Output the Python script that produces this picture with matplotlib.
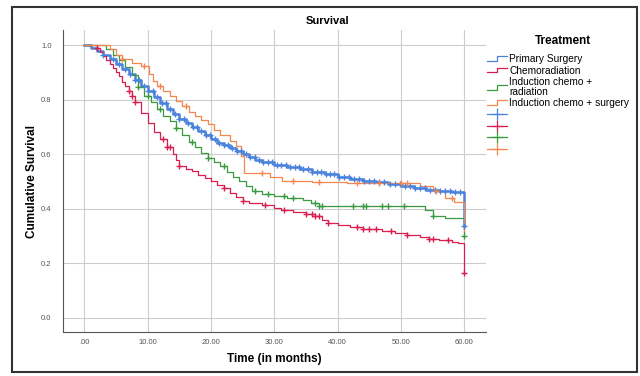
import numpy as np
import matplotlib
matplotlib.use('Agg')
import matplotlib.pyplot as plt
from matplotlib.lines import Line2D
from matplotlib.legend_handler import HandlerBase
from matplotlib.patches import Rectangle

plt.rcParams['font.family'] = ['Liberation Sans', 'DejaVu Sans']

# Kaplan-Meier step data (time in months, cumulative survival)
surg_t = [0, 1, 2, 3, 4, 5, 6, 7, 8, 9, 10, 11, 12, 13, 14, 15, 16, 17, 18, 19,
          20, 21, 22, 23, 24, 25, 26, 27, 28, 30, 32, 34, 36, 38, 40, 42, 44, 46,
          48, 50, 52, 54, 56, 58, 60, 60]
surg_s = [1.0, 0.99, 0.978, 0.962, 0.948, 0.932, 0.912, 0.893, 0.872, 0.85,
          0.83, 0.81, 0.787, 0.767, 0.748, 0.73, 0.715, 0.70, 0.685, 0.67,
          0.655, 0.642, 0.633, 0.624, 0.613, 0.602, 0.59, 0.58, 0.572, 0.562,
          0.553, 0.544, 0.535, 0.527, 0.518, 0.51, 0.503, 0.497, 0.49, 0.482,
          0.477, 0.47, 0.465, 0.46, 0.454, 0.335]
surg_c = [3, 4.5, 5.5, 6.5, 7.2, 8, 8.7, 9.4, 10.1, 10.8, 11.5, 12.2, 12.9, 13.6,
          14.3, 15, 15.7, 16.4, 17.1, 17.8, 18.5, 19.2, 19.9, 20.6, 21.3, 22,
          22.7, 23.4, 24.1, 24.8, 25.5, 26.2, 26.9, 27.6, 28.3, 29, 29.7, 30.4,
          31.1, 31.8, 32.5, 33.2, 33.9, 34.6, 35.3, 36, 36.7, 37.4, 38.1, 38.8,
          39.5, 40.2, 41, 41.8, 42.6, 43.4, 44.2, 45, 45.8, 46.6, 47.4, 48.2, 49,
          49.8, 50.6, 51.4, 52.2, 53, 53.8, 54.6, 55.4, 56.2, 57, 57.8, 58.6,
          59.4, 60]

crt_t = [0, 2, 2.5, 3, 3.5, 4, 4.5, 5, 5.5, 6, 6.5, 7, 7.5, 8, 9, 10, 11, 12, 13,
         14, 14.5, 15, 16, 17, 18, 19, 20, 21, 22, 23, 24, 25, 26, 28, 30, 31, 33,
         35, 36.5, 37.5, 38.5, 40, 42, 44, 47, 49, 51, 53, 54.5, 56, 58, 59, 60, 60]
crt_s = [1.0, 0.99, 0.975, 0.96, 0.945, 0.93, 0.915, 0.9, 0.885, 0.865,
         0.85, 0.833, 0.815, 0.79, 0.75, 0.714, 0.68, 0.655, 0.628, 0.6,
         0.578, 0.556, 0.547, 0.537, 0.525, 0.513, 0.5, 0.487, 0.475, 0.458,
         0.442, 0.428, 0.42, 0.413, 0.404, 0.397, 0.388, 0.38, 0.372, 0.36,
         0.348, 0.34, 0.333, 0.325, 0.317, 0.31, 0.305, 0.298, 0.29, 0.284,
         0.278, 0.274, 0.272, 0.165]
crt_c = [2, 7, 7.5, 8, 12.5, 13, 13.5, 15, 22, 25, 28.5, 31.5, 35, 36, 36.5, 37,
         38.5, 43, 44, 45, 46, 48.5, 51, 54.5, 55, 57.5, 60]

icr_t = [0, 3.5, 4.5, 5.5, 6.5, 7.5, 8.5, 9.5, 10.5, 11.5, 12.5, 13.5, 14.5,
         15.5, 16.5, 17.5, 18.5, 19.5, 20.5, 21.5, 22.5, 23.5, 24.5, 25.5, 26.5,
         28, 30, 32, 34.5, 35.8, 37, 53.8, 55, 57, 60, 60]
icr_s = [1.0, 0.985, 0.965, 0.945, 0.92, 0.89, 0.845, 0.815, 0.79, 0.765,
         0.74, 0.72, 0.695, 0.67, 0.645, 0.625, 0.605, 0.585, 0.57, 0.555,
         0.535, 0.518, 0.5, 0.482, 0.465, 0.455, 0.447, 0.441, 0.432, 0.42,
         0.411, 0.394, 0.375, 0.366, 0.366, 0.30]
icr_c = [8.5, 10, 12, 14.5, 17, 19.5, 22, 27, 29, 31.5, 33, 36.5, 37, 37.5,
         42.5, 44, 44.5, 47, 48, 50.5, 55, 60]

ics_t = [0, 4, 5, 6, 7.5, 9, 10.3, 10.8, 11.5, 12.5, 13.5, 14.5, 15.5, 16.5,
         17.5, 18.5, 19.5, 20.5, 21.5, 23, 24, 24.8, 25.2, 29.4, 31.3, 36, 41.5,
         48, 53, 55, 57, 58.4, 60, 60]
ics_s = [1.0, 0.985, 0.965, 0.948, 0.935, 0.922, 0.895, 0.87, 0.85, 0.83,
         0.812, 0.795, 0.775, 0.755, 0.74, 0.725, 0.71, 0.69, 0.67, 0.65,
         0.63, 0.595, 0.532, 0.515, 0.502, 0.497, 0.495, 0.493, 0.482, 0.465,
         0.44, 0.424, 0.424, 0.32]
ics_c = [6, 9.5, 12, 16, 28, 33, 37, 43, 46.5, 50, 51, 55.5, 58]

labels = ['Primary Surgery', 'Chemoradiation', 'Induction chemo +\nradiation',
          'Induction chemo + surgery']
colors = ['#4a82dc', '#d81e4f', '#3a9a3f', '#f4874f']
groups = [(surg_t, surg_s, surg_c), (crt_t, crt_s, crt_c),
          (icr_t, icr_s, icr_c), (ics_t, ics_s, ics_c)]
xticks = [0, 10, 20, 30, 40, 50, 60]
xticklabels = ['.00', '10.00', '20.00', '30.00', '40.00', '50.00', '60.00']
yticks = [0.0, 0.2, 0.4, 0.6, 0.8, 1.0]


class StepHandler(HandlerBase):
    def create_artists(self, legend, orig_handle, xdescent, ydescent,
                       width, height, fontsize, trans):
        x0, y0 = -xdescent, -ydescent
        xs = [x0, x0 + width * 0.5, x0 + width * 0.5, x0 + width]
        ys = [y0 + height * 0.15, y0 + height * 0.15, y0 + height * 0.8,
              y0 + height * 0.8]
        line = Line2D(xs, ys, color=orig_handle.get_color(), lw=0.9,
                      transform=trans)
        return [line]


fig = plt.figure(figsize=(6.4, 3.76), dpi=100)
ax = fig.add_axes([0.098, 0.117, 0.662, 0.803])

for (t, s, c), col, lab in zip(groups, colors, labels):
    t = np.array(t)
    s = np.array(s)
    lw = 1.8 if lab == 'Primary Surgery' else 0.9
    ax.step(t, s, where='post', color=col, lw=lw, zorder=3)
    c = np.array(c, dtype=float)
    cy = s[np.searchsorted(t, c, side='right') - 1]
    ax.plot(c, cy, linestyle='none', marker='+', color=col, ms=5, mew=1.0,
            zorder=4)

ax.set_xlim(-3.4, 63.5)
ax.set_ylim(-0.052, 1.055)
ax.set_xticks(xticks)
ax.set_xticklabels(xticklabels)
ax.set_yticks(yticks)
ax.set_yticklabels(['%.1f' % v for v in yticks])
ax.tick_params(length=0, labelsize=5.5, labelcolor='#555555')
ax.tick_params(axis='x', pad=5)
ax.tick_params(axis='y', pad=8)
ax.grid(True, color='#cccccc', lw=0.8, zorder=0)
for side in ['top', 'right']:
    ax.spines[side].set_visible(False)
for side in ['left', 'bottom']:
    ax.spines[side].set_color('#555555')
    ax.spines[side].set_linewidth(0.8)

ax.set_xlabel('Time (in months)', fontsize=8.5, fontweight='bold', labelpad=5)
ax.set_ylabel('Cumulative Survival', fontsize=8.5, fontweight='bold',
              labelpad=2)
fig.text(0.512, 0.945, 'Survival', ha='center', va='center', fontsize=8,
         fontweight='bold')
fig.text(563 / 640, 1 - 41 / 376, 'Treatment', ha='center', va='center',
         fontsize=8.5, fontweight='bold')

line_handles = [Line2D([], [], color=col) for col in colors]
cens_handles = [Line2D([], [], color=col, marker='+', ms=8, mew=0.9, lw=0.9)
                for col in colors]
handler_map = {h: StepHandler() for h in line_handles}
leg = fig.legend(line_handles + cens_handles, labels + [''] * 4,
                 loc='upper left', bbox_to_anchor=(0.761, 1 - 54 / 376),
                 frameon=False, fontsize=7.3,
                 handlelength=2.0, handletextpad=0.2, labelspacing=0.15,
                 borderaxespad=0, borderpad=0, handler_map=handler_map)
for txt in leg.get_texts():
    txt.set_linespacing(0.95)

fig.patches.append(Rectangle((12 / 640, 1 - 372 / 376), 625 / 640, 365 / 376,
                             transform=fig.transFigure, fill=False,
                             edgecolor='#333333', lw=1.5))

fig.savefig('out.png', dpi=100)
